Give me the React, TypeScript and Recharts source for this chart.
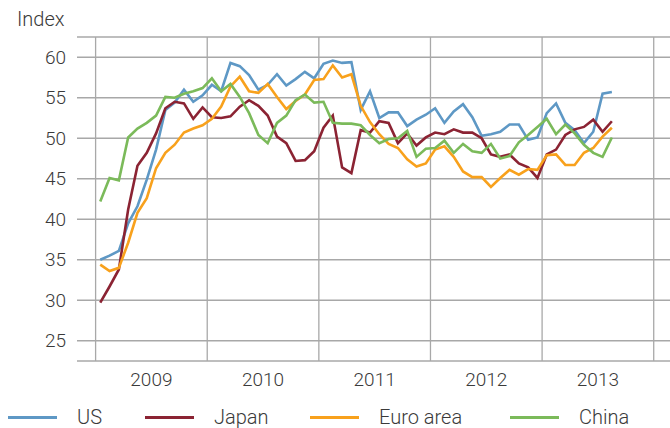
import React from 'react';
import { LineChart, Line, XAxis, YAxis, CartesianGrid, ReferenceLine } from 'recharts';

// Monthly index values, Jan 2009 – Aug 2013
const us = [
  35.0, 35.5, 36.1, 39.5, 41.6, 44.9, 48.6, 53.5, 54.4, 56.0, 54.5, 55.3,
  56.6, 55.8, 59.3, 58.9, 57.8, 56.0, 56.6, 57.9, 56.5, 57.3, 58.2, 57.4,
  59.2, 59.6, 59.3, 59.4, 53.5, 55.8, 52.5, 53.2, 53.2, 51.5, 52.3, 52.9,
  53.7, 51.9, 53.3, 54.2, 52.6, 50.3, 50.5, 50.8, 51.7, 51.7, 49.8, 50.1,
  53.1, 54.3, 51.9, 51.0, 49.4, 50.8, 55.5, 55.7,
];
const japan = [
  29.7, 31.7, 33.8, 41.2, 46.6, 48.2, 50.6, 53.7, 54.5, 54.3, 52.4, 53.8,
  52.6, 52.5, 52.7, 53.9, 54.7, 54.0, 52.8, 50.2, 49.4, 47.2, 47.3, 48.4,
  51.3, 52.8, 46.4, 45.7, 51.0, 50.7, 52.1, 51.9, 49.4, 50.6, 49.1, 50.1,
  50.7, 50.5, 51.1, 50.7, 50.7, 50.0, 48.0, 47.7, 48.0, 46.9, 46.4, 45.1,
  48.0, 48.6, 50.4, 51.1, 51.4, 52.3, 50.8, 52.1,
];
const euro = [
  34.4, 33.6, 34.0, 37.1, 40.8, 42.6, 46.3, 48.2, 49.2, 50.7, 51.2, 51.6,
  52.4, 53.9, 56.4, 57.6, 55.8, 55.6, 56.7, 55.1, 53.6, 54.6, 55.4, 57.2,
  57.3, 59.0, 57.5, 57.9, 54.0, 52.0, 50.5, 49.3, 48.8, 47.4, 46.5, 46.9,
  48.6, 49.0, 47.7, 45.9, 45.2, 45.2, 44.0, 45.1, 46.1, 45.5, 46.2, 46.1,
  47.9, 48.0, 46.7, 46.7, 48.2, 48.8, 50.2, 51.3,
];
const china = [
  42.2, 45.1, 44.8, 50.1, 51.2, 51.9, 52.8, 55.1, 55.0, 55.5, 55.8, 56.2,
  57.4, 55.8, 56.7, 55.1, 53.1, 50.4, 49.4, 51.9, 52.8, 54.7, 55.4, 54.4,
  54.5, 51.9, 51.8, 51.8, 51.6, 50.4, 49.4, 49.9, 50.0, 50.9, 47.7, 48.7,
  48.8, 49.7, 48.2, 49.3, 48.4, 48.2, 49.3, 47.5, 47.8, 49.5, 50.4, 51.4,
  52.4, 50.5, 51.7, 50.6, 49.2, 48.2, 47.7, 50.1,
];

const years = ['2009', '2010', '2011', '2012', '2013'];
const yTicks = [25, 30, 35, 40, 45, 50, 55, 60];

const series = [
  { key: 'us', name: 'US', color: '#5e98c5' },
  { key: 'japan', name: 'Japan', color: '#8b2333' },
  { key: 'euro', name: 'Euro area', color: '#f8a11c' },
  { key: 'china', name: 'China', color: '#7bba5a' },
];

// months since start of 2009, points at mid-month
const data = us.map((v, i) => ({
  t: i + 0.5,
  us: v,
  japan: japan[i],
  euro: euro[i],
  china: china[i],
}));

const yearStarts = [0, 12, 24, 36, 48, 60];
const yearMids = years.map((_, i) => i * 12 + 6);
const legendLefts = [8, 145, 310, 510];

const font = 'Roboto, "Liberation Sans", sans-serif';
const textColor = '#3a3a3a';

export default function App() {
  return (
    <div style={{ position: 'absolute', left: 0, top: 0, width: 670, height: 428, background: '#fff', fontFamily: font, overflow: 'hidden' }}>
      <div style={{ position: 'absolute', left: 17, top: 7, fontSize: 20, fontWeight: 300, color: textColor }}>
        Index
      </div>
      <LineChart
        width={670}
        height={428}
        data={data}
        margin={{ top: 37, right: 0, left: 0, bottom: 37 }}
      >
        <CartesianGrid vertical={false} stroke="#a8a8a8" strokeWidth={1.3} />
        {yearStarts.map((x) => (
          <ReferenceLine key={x} x={x} stroke="#a8a8a8" strokeWidth={1.3} />
        ))}
        <XAxis
          type="number"
          dataKey="t"
          domain={[-2, 61.75]}
          ticks={yearMids}
          tickFormatter={(v: number) => years[Math.round((v - 6) / 12)]}
          axisLine={false}
          tickLine={false}
          interval={0}
          height={30}
          tickMargin={6}
          tick={{ fontSize: 19, fontWeight: 300, fill: textColor, fontFamily: font }}
        />
        <YAxis
          type="number"
          domain={[22.5, 62.5]}
          ticks={yTicks}
          axisLine={false}
          tickLine={false}
          width={77}
          tickMargin={5}
          tick={{ fontSize: 19, fontWeight: 300, fill: textColor, fontFamily: font }}
        />
        {series.map((s) => (
          <Line
            key={s.key}
            type="linear"
            dataKey={s.key}
            name={s.name}
            stroke={s.color}
            strokeWidth={2.6}
            dot={false}
            isAnimationActive={false}
          />
        ))}
      </LineChart>
      <div style={{ position: 'absolute', left: 0, top: 406, width: 670, height: 22 }}>
        {series.map((s, i) => (
          <div key={s.key} style={{ position: 'absolute', left: legendLefts[i], top: 0, height: 22, display: 'flex', alignItems: 'center' }}>
            <div style={{ width: 49, height: 3, background: s.color }} />
            <span style={{ marginLeft: 20, fontSize: 20, fontWeight: 300, color: textColor, lineHeight: '22px' }}>
              {s.name}
            </span>
          </div>
        ))}
      </div>
    </div>
  );
}
